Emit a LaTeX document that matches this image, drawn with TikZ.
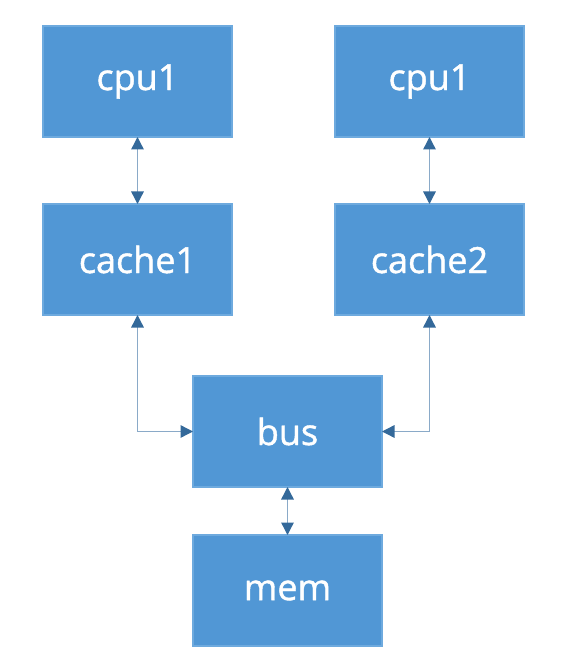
\documentclass[tikz,border=0pt]{standalone}
\usepackage{fontspec}
\newfontfamily\blkfont[FakeBold=1.2]{Open Sans}
\usetikzlibrary{positioning,calc,arrows.meta}
\definecolor{blkfill}{RGB}{81,151,213}
\definecolor{blkedge}{RGB}{110,170,222}
\definecolor{arrline}{RGB}{138,170,200}
\definecolor{arrtip}{RGB}{52,105,154}
\tikzset{blk/.style={draw=blkedge, fill=blkfill, line width=0.6pt, outer sep=0pt, minimum width=3.78cm, minimum height=2.22cm, inner sep=0pt, text=white, font=\blkfont\fontsize{20.5}{24}\selectfont}}
\tikzset{arr/.style={draw=arrline, line width=0.8pt, {Triangle[length=0.25cm,width=0.25cm,color=arrtip]}-{Triangle[length=0.25cm,width=0.25cm,color=arrtip]}}}

\begin{document}
\begin{tikzpicture}
	   \useasboundingbox (-2.75,1.63) rectangle (8.69,-11.77);
	   \node[blk] (cpua) at (0,0) {cpu1};
	   \node[blk,right=2.06cm of cpua] (cpub) {cpu1};
	   \node[blk,below=1.34cm of cpua] (cachea) {cache1};
	   \node[blk,below=1.34cm of cpub] (cacheb) {cache2};
	   \coordinate (mid) at ($(cachea.south)!0.5!(cacheb.south)$);
	   \node[blk,below=1.22cm of mid,xshift=0.08cm] (bus) {bus};
	   \node[blk,below=0.96cm of bus] (mem) {mem};
	   \draw[arr] (cpua) -- (cachea);
	   \draw[arr] (cpub) -- (cacheb);
	   \draw[arr] (cachea.south) |- (bus.west);
	   \draw[arr] (cacheb.south) |- (bus.east);
	   \draw[arr] (bus) -- (mem);
	\end{tikzpicture}
\end{document}
